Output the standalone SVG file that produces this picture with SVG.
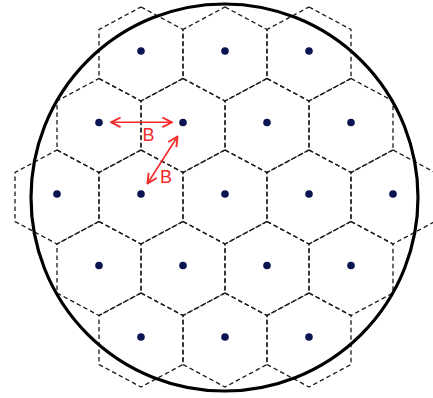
<svg xmlns="http://www.w3.org/2000/svg" xmlns:xlink="http://www.w3.org/1999/xlink" width="433" height="398" viewBox="0 0 433 398">
<style>
.hex{fill:none;stroke:#1a1a1a;stroke-width:1.3;stroke-dasharray:4.5 3}
.dot{fill:#0a1450}
.arr{stroke:#f52a2a;stroke-width:1.6;fill:none}
.lbl{font-family:"Liberation Sans",Arial,sans-serif;font-size:18px;fill:#f52a2a}
</style>
<defs>
<polygon id="hexshape" class="hex" points="0,-47 42,-24.5 42,24.5 0,47 -42,24.5 -42,-24.5"/>
<marker id="ah" markerUnits="userSpaceOnUse" markerWidth="12" markerHeight="12" viewBox="0 0 10 10" refX="9" refY="5" orient="auto-start-reverse">
<path d="M1,1 L9,5 L1,9" fill="none" stroke="#f52a2a" stroke-width="1.6"/>
</marker>
</defs>
<rect width="433" height="398" fill="#fff"/>
<g id="cells">
<g id="cell-0-0" transform="translate(141,54)"><use href="#hexshape"/><circle class="dot" cy="-3" r="3.8"/></g>
<g id="cell-0-1" transform="translate(225,54)"><use href="#hexshape"/><circle class="dot" cy="-3" r="3.8"/></g>
<g id="cell-0-2" transform="translate(309,54)"><use href="#hexshape"/><circle class="dot" cy="-3" r="3.8"/></g>
<g id="cell-1-0" transform="translate(99,125.5)"><use href="#hexshape"/><circle class="dot" cy="-3" r="3.8"/></g>
<g id="cell-1-1" transform="translate(183,125.5)"><use href="#hexshape"/><circle class="dot" cy="-3" r="3.8"/></g>
<g id="cell-1-2" transform="translate(267,125.5)"><use href="#hexshape"/><circle class="dot" cy="-3" r="3.8"/></g>
<g id="cell-1-3" transform="translate(351,125.5)"><use href="#hexshape"/><circle class="dot" cy="-3" r="3.8"/></g>
<g id="cell-2-0" transform="translate(57,197)"><use href="#hexshape"/><circle class="dot" cy="-3" r="3.8"/></g>
<g id="cell-2-1" transform="translate(141,197)"><use href="#hexshape"/><circle class="dot" cy="-3" r="3.8"/></g>
<g id="cell-2-2" transform="translate(225,197)"><use href="#hexshape"/><circle class="dot" cy="-3" r="3.8"/></g>
<g id="cell-2-3" transform="translate(309,197)"><use href="#hexshape"/><circle class="dot" cy="-3" r="3.8"/></g>
<g id="cell-2-4" transform="translate(393,197)"><use href="#hexshape"/><circle class="dot" cy="-3" r="3.8"/></g>
<g id="cell-3-0" transform="translate(99,268.5)"><use href="#hexshape"/><circle class="dot" cy="-3" r="3.8"/></g>
<g id="cell-3-1" transform="translate(183,268.5)"><use href="#hexshape"/><circle class="dot" cy="-3" r="3.8"/></g>
<g id="cell-3-2" transform="translate(267,268.5)"><use href="#hexshape"/><circle class="dot" cy="-3" r="3.8"/></g>
<g id="cell-3-3" transform="translate(351,268.5)"><use href="#hexshape"/><circle class="dot" cy="-3" r="3.8"/></g>
<g id="cell-4-0" transform="translate(141,340)"><use href="#hexshape"/><circle class="dot" cy="-3" r="3.8"/></g>
<g id="cell-4-1" transform="translate(225,340)"><use href="#hexshape"/><circle class="dot" cy="-3" r="3.8"/></g>
<g id="cell-4-2" transform="translate(309,340)"><use href="#hexshape"/><circle class="dot" cy="-3" r="3.8"/></g>
</g>
<g id="coverage">
<circle cx="224.5" cy="197.5" r="193.5" fill="none" stroke="#000" stroke-width="3.2"/>
</g>
<g id="connectors">
<line class="arr" x1="111" y1="122.3" x2="172" y2="122.3" marker-start="url(#ah)" marker-end="url(#ah)"/>
<line class="arr" x1="177.5" y1="136.5" x2="147.5" y2="183.5" marker-start="url(#ah)" marker-end="url(#ah)"/>
</g>
<g id="labels">
<text class="lbl" x="142.5" y="141">B</text>
<text class="lbl" x="160" y="183">B</text>
</g>
</svg>
